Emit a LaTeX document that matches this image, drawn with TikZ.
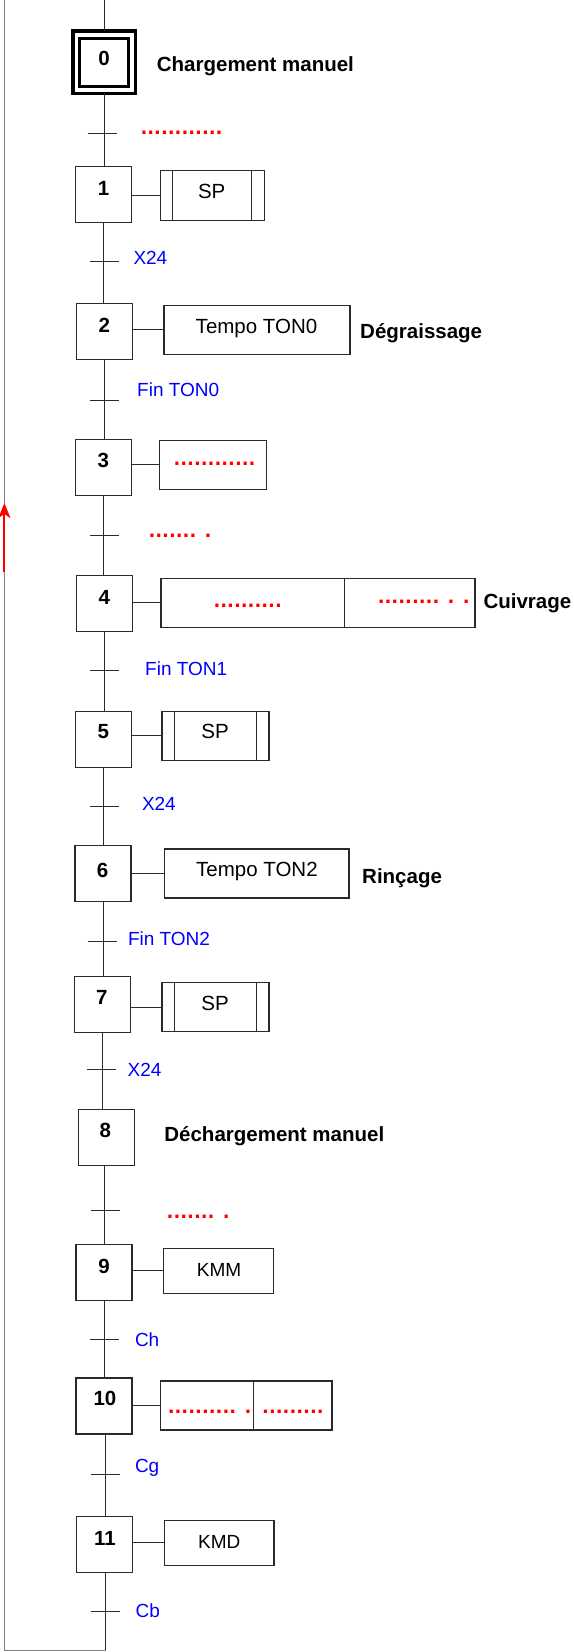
\documentclass[tikz,border=0pt]{standalone}
\usepackage{fontspec}
\setmainfont{Liberation Sans}
\newfontfamily\dotfont{DejaVu Sans}
\usetikzlibrary{arrows.meta}
\definecolor{linec}{HTML}{2A2A2A}
\definecolor{loopc}{HTML}{7F7F7F}
\definecolor{condblue}{HTML}{0000FF}
\definecolor{dotred}{HTML}{FF0000}
\begin{document}
\begin{tikzpicture}[x=1pt,y=-1pt,
  stepbox/.style={draw=linec, line width=1.1pt, minimum width=56pt, minimum height=56pt, inner sep=0pt, outer sep=0pt},
  initbox/.style={draw=black, line width=3.3pt, inner sep=0pt, outer sep=0pt},
  num/.style={font=\fontsize{20.5}{24}\selectfont\bfseries, anchor=base, inner sep=0pt},
  actbox/.style={draw=linec, line width=1.1pt, inner sep=0pt, outer sep=0pt},
  acttxt/.style={font=\fontsize{20.5}{24}\selectfont, anchor=base, inner sep=0pt},
  lbl/.style={font=\fontsize{20.5}{24}\selectfont\bfseries, anchor=base west, inner sep=0pt},
  cond/.style={font=\fontsize{19}{24}\selectfont, text=condblue, anchor=base west, inner sep=0pt},
  dots/.style={font=\dotfont\fontsize{18}{24}\selectfont\bfseries, text=dotred, anchor=base west, inner sep=0pt},
  trans/.style={draw=none, minimum width=29pt, minimum height=0pt, inner sep=0pt, outer sep=0pt},
  link/.style={draw=linec, line width=1pt},
  loopline/.style={draw=loopc, line width=1.4pt}
]
\useasboundingbox (0,0) rectangle (573,1652);

% ---------- steps ----------
\node[initbox, minimum width=62.3pt, minimum height=62.3pt] (s0) at (104.2,62.2) {};
\node[initbox, minimum width=48.6pt, minimum height=48.4pt] (s0i) at (104,62.5) {};
\node[stepbox] (s1) at (103.4,194.7) {};
\node[stepbox] (s2) at (104.2,331.7) {};
\node[stepbox] (s3) at (103.4,467.5) {};
\node[stepbox] (s4) at (104.2,603.3) {};
\node[stepbox] (s5) at (103.4,739.7) {};
\node[stepbox] (s6) at (103,873.7) {};
\node[stepbox] (s7) at (102.4,1004.8) {};
\node[stepbox] (s8) at (106.3,1137.7) {};
\node[stepbox] (s9) at (104,1272.8) {};
\node[stepbox] (s10) at (104,1406) {};
\node[stepbox] (s11) at (104.9,1544.8) {};

% ---------- step numbers ----------
\node[num] (n0) at (104,65) {0};
\node[num] (n1) at (103.5,195) {1};
\node[num] (n2) at (104.3,332) {2};
\node[num] (n3) at (103.4,467) {3};
\node[num] (n4) at (104.2,604.3) {4};
\node[num] (n5) at (103.4,738.7) {5};
\node[num] (n6) at (102.5,877) {6};
\node[num] (n7) at (101.7,1004.3) {7};
\node[num] (n8) at (105.4,1137) {8};
\node[num] (n9) at (104,1273) {9};
\node[num] (n10) at (105,1405.7) {10};
\node[num] (n11) at (105,1545) {11};

% ---------- action boxes ----------
\node[actbox, minimum width=104pt, minimum height=50pt] (a1) at (212.2,195.3) {};
\node[actbox, minimum width=186pt, minimum height=49pt] (a2) at (257,329.8) {};
\node[actbox, minimum width=107pt, minimum height=49pt] (a3) at (213.4,464.8) {};
\node[actbox, minimum width=183.3pt, minimum height=49.3pt] (a4l) at (252.65,602.7) {};
\node[actbox, minimum width=130.7pt, minimum height=49.3pt] (a4r) at (409.65,602.7) {};
\node[actbox, minimum width=107pt, minimum height=49pt] (a5) at (215.5,735.8) {};
\node[actbox, minimum width=184.8pt, minimum height=49pt] (a6) at (256.6,873.5) {};
\node[actbox, minimum width=107pt, minimum height=49pt] (a7) at (215.5,1007.2) {};
\node[actbox, minimum width=109.8pt, minimum height=45pt] (a9) at (218.7,1270.8) {};
\node[actbox, minimum width=93.7pt, minimum height=49pt] (a10l) at (206.95,1405.5) {};
\node[actbox, minimum width=78.2pt, minimum height=49pt] (a10r) at (292.9,1405.5) {};
\node[actbox, minimum width=109.8pt, minimum height=45.3pt] (a11) at (219.1,1542.7) {};

% SP side bars
\foreach \a in {a1,a5,a7}{
  \draw[link] ([xshift=12.5pt]\a.north west) -- ([xshift=12.5pt]\a.south west);
  \draw[link] ([xshift=-12.5pt]\a.north east) -- ([xshift=-12.5pt]\a.south east);
}

% ---------- links step -> action ----------
\draw[link] (a1.west) -- (a1.west -| s1.east);
\draw[link] (a2.west) -- (a2.west -| s2.east);
\draw[link] (a3.west) -- (a3.west -| s3.east);
\draw[link] (a4l.west) -- (a4l.west -| s4.east);
\draw[link] (a5.west) -- (a5.west -| s5.east);
\draw[link] (a6.west) -- (a6.west -| s6.east);
\draw[link] (a7.west) -- (a7.west -| s7.east);
\draw[link] (a9.west) -- (a9.west -| s9.east);
\draw[link] (a10l.west) -- (a10l.west -| s10.east);
\draw[link] (a11.west) -- (a11.west -| s11.east);

% ---------- action texts ----------
\node[acttxt] (x1) at (211.7,198.3) {SP};
\node[acttxt] (x2) at (256.5,333.3) {Tempo TON0};
\node[dots] (x3) at (173.3,465.2) {............};
\node[dots] (x4l) at (213.3,607.9) {..........};
\node[dots] (x4r) at (377.6,603.6) {......... . .};
\node[acttxt] (x5) at (215,738.7) {SP};
\node[acttxt] (x6) at (256.9,876.3) {Tempo TON2};
\node[acttxt] (x7) at (215,1010.3) {SP};
\node[acttxt, font=\fontsize{19}{24}\selectfont] (x9) at (219,1276) {KMM};
\node[dots] (x10l) at (167.6,1413.2) {.......... .};
\node[dots] (x10r) at (262,1413.2) {.........};
\node[acttxt, font=\fontsize{19}{24}\selectfont] (x11) at (219.3,1548) {KMD};

% ---------- step labels ----------
\node[lbl] (l0) at (156.7,71) {Chargement manuel};
\node[lbl] (l2) at (360,338.3) {Dégraissage};
\node[lbl] (l4) at (483.3,608.3) {Cuivrage};
\node[lbl] (l6) at (362,883.5) {Rinçage};
\node[lbl] (l8) at (164.2,1141.3) {Déchargement manuel};

% ---------- vertical links ----------
\coordinate (top) at (104.2,0);
\draw[link] (top) -- (s0.north);
\draw[link] (s0.south) -- (s0.south |- s1.north);
\draw[link] (s1.south) -- (s1.south |- s2.north);
\draw[link] (s2.south) -- (s2.south |- s3.north);
\draw[link] (s3.south) -- (s3.south |- s4.north);
\draw[link] (s4.south) -- (s4.south |- s5.north);
\draw[link] (s5.south) -- (s5.south |- s6.north);
\draw[link] (s6.south) -- (s6.south |- s7.north);
\draw[link] (s7.south) -- (s7.south |- s8.north);
\draw[link] ([xshift=-2pt]s8.south) -- ([xshift=-2pt]s8.south |- s9.north);
\draw[link] (s9.south) -- (s9.south |- s10.north);
\draw[link] ([xshift=1.5pt]s10.south) -- ([xshift=1.5pt]s10.south |- s11.north);

% ---------- transitions ----------
\node[trans] (t01) at (102,133) {};
\node[trans] (t12) at (104.5,261.5) {};
\node[trans] (t23) at (104.2,400.7) {};
\node[trans] (t34) at (104.5,535.7) {};
\node[trans] (t45) at (104.9,670) {};
\node[trans] (t56) at (104.9,806.7) {};
\node[trans] (t67) at (102.4,941.3) {};
\node[trans] (t78) at (101.4,1069.7) {};
\node[trans] (t89) at (105.2,1210) {};
\node[trans] (t910) at (104.9,1339.7) {};
\node[trans] (t1011) at (105.2,1474) {};
\node[trans] (t11e) at (105.6,1611.7) {};
\foreach \t in {t01,t12,t23,t34,t45,t56,t67,t78,t89,t910,t1011,t11e}{
  \draw[link] (\t.west) -- (\t.east);
}

% ---------- receptivities ----------
\node[dots] (c01) at (140.3,134.9) {............};
\node[cond] (c12) at (133.3,264.3) {X24};
\node[cond] (c23) at (137,396.7) {Fin TON0};
\node[dots] (c34) at (148.3,537.9) {....... .};
\node[cond] (c45) at (145,675) {Fin TON1};
\node[cond] (c56) at (141.8,810) {X24};
\node[cond] (c67) at (127.8,945.3) {Fin TON2};
\node[cond] (c78) at (127.5,1076) {X24};
\node[dots] (c89) at (166.5,1218.2) {....... .};
\node[cond] (c910) at (134.8,1346) {Ch};
\node[cond] (c1011) at (134.8,1472.3) {Cg};
\node[cond] (c11e) at (135.5,1617.7) {Cb};

% ---------- return loop ----------
\coordinate (bot) at (105.8,1650.7);
\coordinate (botl) at (4.4,1650.7);
\coordinate (topl) at (4.4,0);
\draw[link] ([xshift=0.9pt]s11.south) -- ([xshift=0.9pt]s11.south |- bot);
\draw[loopline] (bot) -- (botl) -- (topl);
\coordinate (ra) at (4.4,572);
\coordinate (rb) at (4.4,503);
\draw[dotred, line width=2pt, -{Stealth[length=15pt,width=12pt,inset=4pt]}] (ra) -- (rb);
\end{tikzpicture}
\end{document}
